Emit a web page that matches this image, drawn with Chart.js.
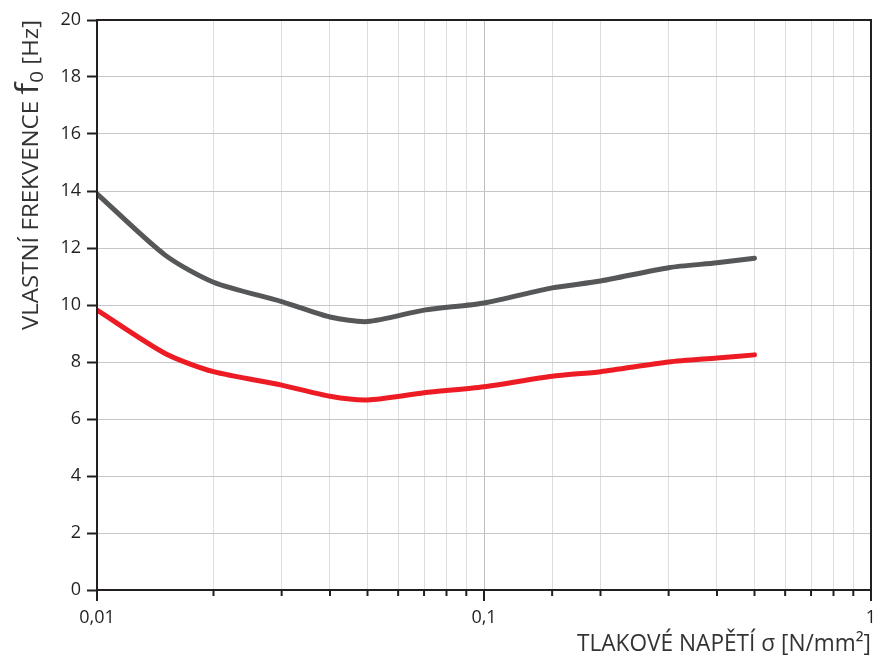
<!DOCTYPE html>
<html>
<head>
<meta charset="utf-8">
<script src="https://cdn.jsdelivr.net/npm/chart.js@4.4.0/dist/chart.umd.min.js"></script>
<style>
  html, body { margin: 0; padding: 0; background: #fff; }
  #wrap { width: 877px; height: 661px; }
</style>
</head>
<body>
<div id="wrap"><canvas id="chart"></canvas></div>
<script>
// stress sigma [N/mm2]
const sigma = [0.01, 0.015, 0.02, 0.03, 0.04, 0.05, 0.07, 0.1, 0.15, 0.2, 0.3, 0.4, 0.5];
// natural frequency f0 [Hz]
const upperCurve = [13.9, 11.75, 10.8, 10.12, 9.58, 9.42, 9.82, 10.07, 10.6, 10.84, 11.31, 11.48, 11.64];
const lowerCurve = [9.82, 8.3, 7.66, 7.19, 6.8, 6.67, 6.92, 7.13, 7.5, 7.66, 8.0, 8.14, 8.25];
const yTicks = [0, 2, 4, 6, 8, 10, 12, 14, 16, 18, 20];
const xLabels = { 0.01: "0,01", 0.1: "0,1", 1: "1" };

const yTitle = ["VLASTNÍ FREKVENCE ", "f", "0", " [Hz]"];
const xTitle = "TLAKOVÉ NAPĚTÍ σ [N/mm²]";

const INK = "#231f20";
const FONT = "'Open Sans', 'Noto Sans', sans-serif";

function isMajor(v) {
  const l = Math.log10(v);
  return Math.abs(l - Math.round(l)) < 1e-9;
}

function toPoints(ys) {
  return sigma.map((s, i) => ({ x: s, y: ys[i] }));
}

// box, x tick marks and axis titles
const decor = {
  id: "decor",
  afterDraw(chart) {
    const c = chart.ctx;
    const a = chart.chartArea;
    const xs = chart.scales.x;

    c.save();
    c.strokeStyle = INK;
    c.lineWidth = 2;
    c.strokeRect(a.left, a.top, a.right - a.left, a.bottom - a.top);

    // tick marks under the x axis, long ones at decades
    xs.ticks.forEach((t) => {
      const px = xs.getPixelForValue(t.value);
      const len = isMajor(t.value) ? 11 : 6;
      c.beginPath();
      c.moveTo(px, a.bottom);
      c.lineTo(px, a.bottom + len);
      c.stroke();
    });

    // x title, right aligned
    c.fillStyle = "#333";
    c.font = "23px " + FONT;
    c.textBaseline = "alphabetic";
    const wantX = 294;
    const w = c.measureText(xTitle).width;
    c.save();
    c.translate(a.right, 651);
    c.scale(wantX / w, 1);
    c.textAlign = "right";
    c.fillText(xTitle, 0, 0);
    c.restore();

    // y title, rotated, with big f and subscript 0
    const parts = [
      { t: yTitle[0], size: 21, dy: 0 },
      { t: yTitle[1], size: 31, dy: 0 },
      { t: yTitle[2], size: 18, dy: 5 },
      { t: yTitle[3], size: 21, dy: 0 }
    ];
    let total = 0;
    parts.forEach((p) => {
      c.font = p.size + "px " + FONT;
      p.w = c.measureText(p.t).width;
      total += p.w;
    });
    const wantY = 310;
    c.save();
    c.translate(38, 330);
    c.rotate(-Math.PI / 2);
    c.scale(wantY / total, 1);
    c.textAlign = "left";
    let pos = 0;
    parts.forEach((p) => {
      c.font = p.size + "px " + FONT;
      c.fillText(p.t, pos, p.dy);
      pos += p.w;
    });
    c.restore();
    c.restore();
  }
};

new Chart(document.getElementById("chart"), {
  type: "line",
  data: {
    datasets: [
      {
        data: toPoints(upperCurve),
        borderColor: "#555759",
        borderWidth: 5,
        pointRadius: 0,
        tension: 0.25,
        borderCapStyle: "round",
        fill: false
      },
      {
        data: toPoints(lowerCurve),
        borderColor: "#ed1c24",
        borderWidth: 5,
        pointRadius: 0,
        tension: 0.25,
        borderCapStyle: "round",
        fill: false
      }
    ]
  },
  options: {
    responsive: true,
    maintainAspectRatio: false,
    animation: false,
    layout: { padding: { top: 20, right: 6, left: 0, bottom: 0 } },
    plugins: {
      legend: { display: false },
      tooltip: { enabled: false }
    },
    scales: {
      x: {
        type: "logarithmic",
        min: 0.01,
        max: 1,
        afterFit(s) {
          s.height = 71;
          s.paddingLeft = 0;
          s.paddingRight = 0;
        },
        border: { display: false },
        grid: {
          drawTicks: false,
          color: (ctx) => (ctx.tick && isMajor(ctx.tick.value) ? "#bdbdbd" : "#dedede"),
          lineWidth: 1
        },
        ticks: {
          autoSkip: false,
          maxRotation: 0,
          padding: 17,
          color: INK,
          font: { size: 18, family: FONT },
          callback: (v) => xLabels[v] || ""
        }
      },
      y: {
        min: 0,
        max: 20,
        afterFit(s) { s.width = 97; },
        afterBuildTicks(s) { s.ticks = yTicks.map((v) => ({ value: v })); },
        border: { display: false },
        grid: {
          color: "#c6c6c6",
          lineWidth: 1,
          tickColor: INK,
          tickLength: 10,
          tickWidth: 2
        },
        ticks: {
          padding: 6,
          color: INK,
          font: { size: 18, family: FONT }
        }
      }
    }
  },
  plugins: [decor]
});
</script>
</body>
</html>
